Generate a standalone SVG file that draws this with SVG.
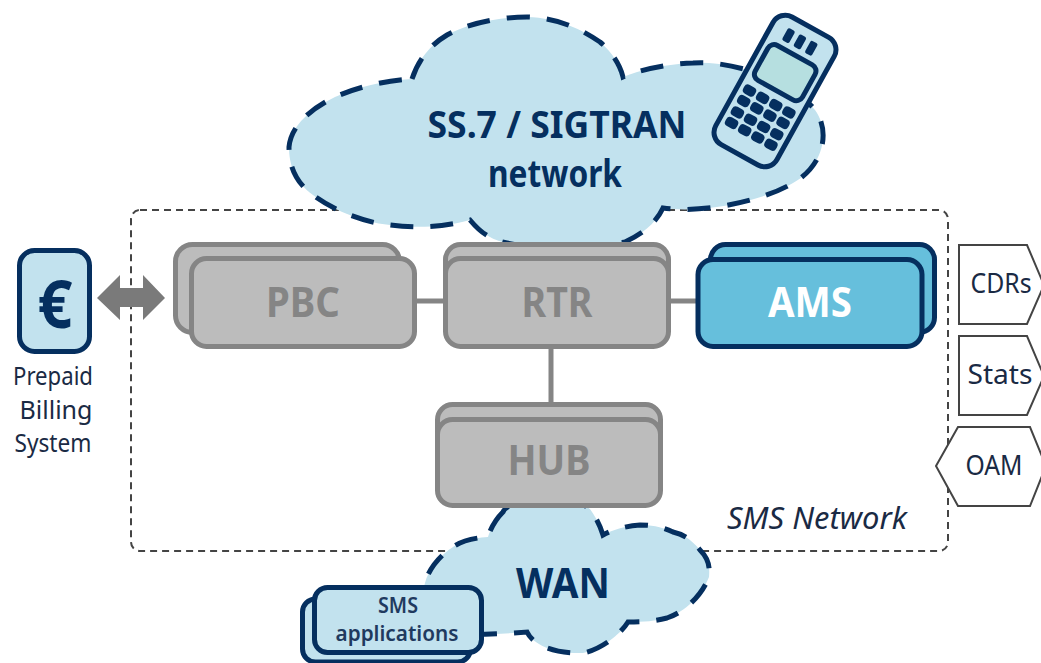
<svg xmlns="http://www.w3.org/2000/svg" width="1041" height="663" viewBox="0 0 1041 663">
<style>
text{font-family:"Noto Sans","Liberation Sans",sans-serif;text-anchor:middle}
.cloud{fill:#c2e2ee;stroke:#052f5f;stroke-width:5;stroke-dasharray:23 17}
.gray{fill:#bcbcbc;stroke:#858585;stroke-width:5}
.graylabel{fill:#858585;font-size:41px;font-weight:700}
.conn{stroke:#858585;stroke-width:5;fill:none}
.navy{fill:#c2e2ee;stroke:#052f5f;stroke-width:5}
.ams{fill:#66bfdc;stroke:#052f5f;stroke-width:5}
.doc{fill:#fff;stroke:#444;stroke-width:2}
.small{fill:#1a2a44;font-size:25px}
.key{fill:#052f5f}
.title{fill:#052f5f;font-size:37px;font-weight:700}
</style>
<g id="sms-network"><rect x="131" y="210" width="817" height="341" rx="9" fill="none" stroke="#444" stroke-width="2" stroke-dasharray="7 5"/>
<text x="817" y="529" font-size="31" font-style="italic" fill="#1a2a44" textLength="180" lengthAdjust="spacingAndGlyphs">SMS Network</text></g>
<g id="ss7-cloud"><path class="cloud" d="M412 79C418 60 430 45 447 35C465 25 495 17 527 17C560 18 582 30 600 42C612 52 620 65 623 77C640 70 665 64 693 63C740 60 795 85 815 110C830 130 825 165 793 183C765 200 705 214 663 208C655 225 640 235 625 242C590 250 510 250 490 237C480 232 475 226 470 220C440 228 415 228 390 225C360 222 330 208 313 195C295 182 289 165 289 147C291 125 312 108 335 97C355 88 385 80 412 79Z"/>
<text class="title" x="557" y="138" textLength="259" lengthAdjust="spacingAndGlyphs">SS.7 / SIGTRAN</text>
<text class="title" x="555" y="187" textLength="134" lengthAdjust="spacingAndGlyphs">network</text></g>
<g id="phone" transform="rotate(29 775 91)">
<rect x="740" y="18" width="70" height="146" rx="14" class="navy"/>
<rect x="748" y="50" width="54" height="40" rx="7" fill="#b6dfe0" stroke="#052f5f" stroke-width="5"/>
<g class="key"><rect x="756" y="29" width="8" height="14" rx="2"/><rect x="769" y="29" width="8" height="14" rx="2"/><rect x="782" y="29" width="8" height="14" rx="2"/>
<rect x="746" y="98" width="13" height="10" rx="4"/><rect x="761" y="98" width="13" height="10" rx="4"/><rect x="776" y="98" width="13" height="10" rx="4"/><rect x="791" y="98" width="13" height="10" rx="4"/>
<rect x="746" y="110" width="13" height="10" rx="4"/><rect x="761" y="110" width="13" height="10" rx="4"/><rect x="776" y="110" width="13" height="10" rx="4"/><rect x="791" y="110" width="13" height="10" rx="4"/>
<rect x="746" y="123" width="13" height="10" rx="4"/><rect x="761" y="123" width="13" height="10" rx="4"/><rect x="776" y="123" width="13" height="10" rx="4"/><rect x="791" y="123" width="13" height="10" rx="4"/>
<rect x="746" y="135" width="13" height="10" rx="4"/><rect x="761" y="135" width="13" height="10" rx="4"/><rect x="776" y="135" width="13" height="10" rx="4"/><rect x="791" y="135" width="13" height="10" rx="4"/></g></g>
<g id="connectors">
<path class="conn" d="M414 301H446M668 301H698M551 347V405"/>
<path d="M97 298L120 275V288H143V275L165 298L143 320V307H120V320Z" fill="#7a7a7a"/>
</g>
<g id="wan-cloud"><path class="cloud" d="M503 512C495 520 490 530 488 537C470 538 458 543 453 547C440 555 428 570 425 583C420 600 425 625 445 632C460 636 500 634 527 632C533 645 555 654 583 653C600 650 620 635 628 622C645 622 655 621 667 618C685 612 702 595 709 577C710 565 708 558 700 550C690 538 682 534 673 532C660 526 650 525 640 525C625 526 612 530 603 535C600 525 596 518 592 512C585 495 510 495 503 512Z"/>
<text class="title" x="563" y="598" style="font-size:41px" textLength="94" lengthAdjust="spacingAndGlyphs">WAN</text></g>
<g id="pbc"><rect class="gray" x="175.5" y="244.5" width="224" height="88" rx="17"/><rect class="gray" x="191.5" y="258.5" width="223" height="88" rx="15"/><text class="graylabel" x="303" y="317" textLength="74" lengthAdjust="spacingAndGlyphs">PBC</text></g>
<g id="rtr"><rect class="gray" x="445.5" y="244.5" width="223" height="88" rx="15"/><rect class="gray" x="445.5" y="258.5" width="223" height="88" rx="15"/><text class="graylabel" x="557" y="317" textLength="71" lengthAdjust="spacingAndGlyphs">RTR</text></g>
<g id="ams"><rect class="ams" x="710.5" y="244.5" width="224" height="88" rx="15"/><rect class="ams" x="698" y="259.5" width="224" height="87" rx="15"/><text x="810" y="317" font-size="41" font-weight="700" fill="#fff" textLength="84" lengthAdjust="spacingAndGlyphs">AMS</text></g>
<g id="hub"><rect class="gray" x="437.5" y="404.5" width="223" height="86" rx="15"/><rect class="gray" x="437.5" y="419.5" width="223" height="86" rx="15"/><text class="graylabel" x="549" y="475" textLength="83" lengthAdjust="spacingAndGlyphs">HUB</text></g>
<g id="billing"><rect class="navy" x="19.5" y="250.5" width="70" height="101" rx="15"/><text x="55" y="328" font-size="66" font-weight="700" fill="#052f5f" textLength="35" lengthAdjust="spacingAndGlyphs">€</text>
<text class="small" x="53" y="385" textLength="80" lengthAdjust="spacingAndGlyphs">Prepaid</text><text class="small" x="56" y="419" textLength="73" lengthAdjust="spacingAndGlyphs">Billing</text><text class="small" x="53" y="452" textLength="77" lengthAdjust="spacingAndGlyphs">System</text></g>
<g id="cdrs"><path class="doc" d="M959 245H1027L1044 285L1027 324H959Z"/><text class="small" x="1001" y="293" style="font-size:27px" textLength="61" lengthAdjust="spacingAndGlyphs">CDRs</text></g>
<g id="stats"><path class="doc" d="M959 336H1027L1044 376L1027 415H959Z"/><text class="small" x="1000" y="384" style="font-size:27px" textLength="65" lengthAdjust="spacingAndGlyphs">Stats</text></g>
<g id="oam"><path class="doc" d="M936 466L958 427H1030L1046 466L1030 506H958Z"/><text class="small" x="994" y="475" style="font-size:27px" textLength="57" lengthAdjust="spacingAndGlyphs">OAM</text></g>
<g id="sms-apps"><rect class="navy" x="302.5" y="599" width="168" height="63" rx="13"/><rect class="navy" x="314.5" y="587.5" width="167" height="65" rx="13"/>
<text x="398" y="613" font-size="21" font-weight="600" fill="#1f3a5f" textLength="40" lengthAdjust="spacingAndGlyphs">SMS</text><text x="397" y="641" font-size="21" font-weight="600" fill="#1f3a5f" textLength="123" lengthAdjust="spacingAndGlyphs">applications</text></g>
</svg>
